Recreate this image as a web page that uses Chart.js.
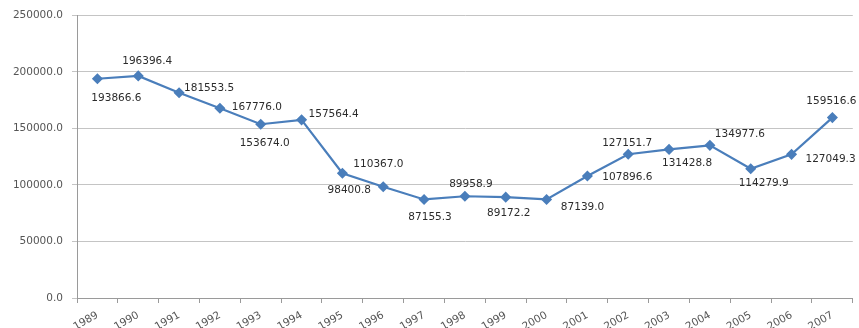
<!DOCTYPE html>
<html>
<head>
<meta charset="utf-8">
<script src="https://cdn.jsdelivr.net/npm/chart.js@4/dist/chart.umd.min.js"></script>
<style>
  html, body { margin: 0; padding: 0; background: #fff; }
  #wrap { width: 859px; height: 328px; position: relative; }
</style>
</head>
<body>
<div id="wrap"><canvas id="c"></canvas></div>
<script>
// Annual values, 1989–2007
const years = ['1989','1990','1991','1992','1993','1994','1995','1996','1997','1998',
               '1999','2000','2001','2002','2003','2004','2005','2006','2007'];
const values = [193866.6, 196396.4, 181553.5, 167776.0, 153674.0, 157564.4, 110367.0,
                98400.8, 87155.3, 89958.9, 89172.2, 87139.0, 107896.6, 127151.7,
                131428.8, 134977.6, 114279.9, 127049.3, 159516.6];
const yTicks = [0, 50000, 100000, 150000, 200000, 250000];

// Where each value label sits relative to its point (pixels: dx, dy)
const labelPlacement = [
  [19, 19], [9, -15], [30, -4], [37, -1], [4, 19], [32, -6], [36, -9],
  [-34, 4], [6, 18], [6, -12], [3, 16], [36, 8], [40, 1], [-1, -11],
  [18, 14], [30, -11], [13, 14], [39, 5], [-1, -16]
];

const fmt = v => v.toFixed(1);

// Draws the value next to each point
const valueLabels = {
  id: 'valueLabels',
  afterDatasetsDraw(chart) {
    const ctx = chart.ctx;
    const meta = chart.getDatasetMeta(0);
    ctx.save();
    ctx.font = '10.5px "DejaVu Sans", Verdana, sans-serif';
    ctx.fillStyle = '#2b2b2b';
    ctx.textAlign = 'center';
    ctx.textBaseline = 'middle';
    meta.data.forEach((pt, i) => {
      const [dx, dy] = labelPlacement[i];
      ctx.fillText(fmt(values[i]), pt.x + dx, pt.y + dy);
    });
    ctx.restore();
  }
};

new Chart(document.getElementById('c'), {
  type: 'line',
  data: {
    labels: years,
    datasets: [{
      data: values,
      borderColor: '#4A7EBB',
      backgroundColor: '#4A7EBB',
      borderWidth: 2.2,
      pointStyle: 'rectRot',
      pointRadius: 4,
      pointHoverRadius: 4,
      tension: 0,
      fill: false
    }]
  },
  options: {
    responsive: true,
    maintainAspectRatio: false,
    animation: false,
    events: [],
    layout: { padding: { top: 15, right: 1, left: 0, bottom: 0 } },
    plugins: {
      legend: { display: false },
      tooltip: { enabled: false },
      title: { display: false }
    },
    scales: {
      x: {
        offset: true,
        grid: {
          offset: true,
          drawOnChartArea: false,
          drawTicks: true,
          tickLength: 5,
          color: '#9a9a9a'
        },
        border: { color: '#9a9a9a', width: 1 },
        ticks: {
          color: '#555',
          font: { family: '"DejaVu Sans", Verdana, sans-serif', size: 10.5 },
          minRotation: 30,
          maxRotation: 30,
          autoSkip: false,
          padding: 6
        },
        afterFit(scale) { scale.height = 30; }
      },
      y: {
        min: 0,
        max: 250000,
        afterBuildTicks(scale) { scale.ticks = yTicks.map(v => ({ value: v })); },
        grid: {
          color: '#c4c4c4',
          tickLength: 5,
          drawTicks: true
        },
        border: { color: '#9a9a9a', width: 1 },
        ticks: {
          color: '#555',
          font: { family: '"DejaVu Sans", Verdana, sans-serif', size: 10.5 },
          padding: 9,
          callback: v => fmt(v)
        },
        afterFit(scale) { scale.width = 77; }
      }
    }
  },
  plugins: [valueLabels]
});
</script>
</body>
</html>
